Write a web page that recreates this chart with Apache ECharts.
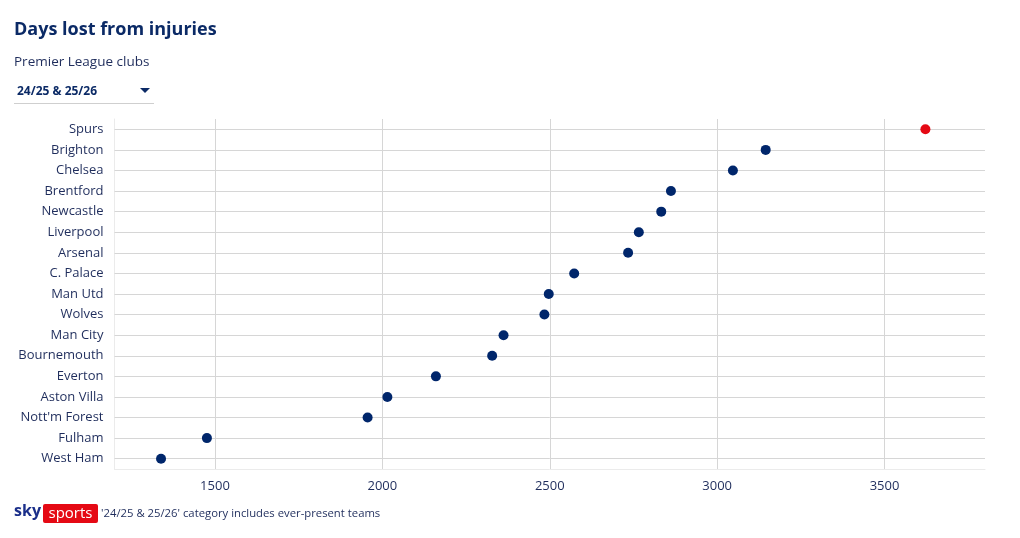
<!DOCTYPE html>
<html>
<head>
<meta charset="utf-8">
<script src="https://cdn.jsdelivr.net/npm/echarts@6/dist/echarts.min.js"></script>
<style>
html,body{margin:0;padding:0;background:#fff;}
#c{width:1020px;height:538px;}
</style>
</head>
<body>
<div id="c"></div>
<script>
const clubs = ["Spurs","Brighton","Chelsea","Brentford","Newcastle","Liverpool","Arsenal","C. Palace","Man Utd","Wolves","Man City","Bournemouth","Everton","Aston Villa","Nott'm Forest","Fulham","West Ham"];
const daysLost = [3622,3145,3047,2862,2833,2766,2734,2573,2497,2484,2362,2328,2160,2015,1956,1476,1339];
const highlightClub = "Spurs";
const xTicks = [1500,2000,2500,3000,3500];
const xMin = 1200, xMax = 3800;

const NAVY = '#00266b';
const TEXT = '#1f2d5c';
const RED = '#e50914';
const FONT = '"Open Sans", "Noto Sans", sans-serif';

const chart = echarts.init(document.getElementById('c'), null, {renderer:'canvas'});
chart.setOption({
  animation:false,
  backgroundColor:'#fff',
  grid:{left:114.5, right:35, top:119, bottom:69, containLabel:false},
  xAxis:{
    type:'value', min:xMin, max:xMax,
    axisLine:{show:true, lineStyle:{color:'#ebebeb', width:1}},
    axisTick:{show:false, customValues:xTicks},
    axisLabel:{customValues:xTicks, color:TEXT, fontSize:13, fontFamily:FONT, margin:11, formatter:v=>String(v)},
    splitLine:{show:true, lineStyle:{color:'#d6d6d6', width:1}}
  },
  yAxis:{
    type:'category', data:clubs, inverse:true,
    axisLine:{show:true, lineStyle:{color:'#ebebeb', width:1}},
    axisTick:{show:false},
    axisLabel:{color:TEXT, fontSize:13, fontFamily:FONT, margin:11},
    splitLine:{show:false}
  },
  series:[{
    type:'scatter',
    data: daysLost.map((v,i)=>({value:[v, clubs[i]], itemStyle:{color: clubs[i]===highlightClub ? RED : NAVY, opacity:1}})),
    symbolSize:10,
    itemStyle:{opacity:1},
    z:5,
    markLine:{
      silent:true, symbol:'none', animation:false,
      label:{show:false},
      lineStyle:{color:'#d6d6d6', type:'solid', width:1},
      emphasis:{disabled:true},
      data: clubs.map(c=>({yAxis:c}))
    }
  }],
  graphic:[
    {type:'text', left:14, top:21, style:{text:'Days lost from injuries', fill:'#0b2a66', font:'bold 18px '+FONT}},
    {type:'text', left:14, top:55, style:{text:'Premier League clubs', fill:TEXT, font:'13.5px '+FONT}},
    {type:'text', left:17, top:86, style:{text:'24/25 & 25/26', fill:'#0b2a66', font:'bold 12px '+FONT}},
    {type:'polygon', shape:{points:[[140,88],[150,88],[145,93]]}, style:{fill:'#0b2a66'}},
    {type:'line', shape:{x1:14,y1:103.5,x2:154,y2:103.5}, style:{stroke:'#cfcfcf', lineWidth:1}},
    {type:'text', left:14, top:503, style:{text:'sky', fill:'#1b2f8a', font:'bold 16px '+FONT}},
    {type:'rect', shape:{x:43, y:504, width:55, height:19, r:2}, style:{fill:RED}},
    {type:'text', x:70.5, y:513.5, style:{text:'sports', fill:'#fff', font:'15px '+FONT, align:'center', verticalAlign:'middle'}},
    {type:'text', left:101, top:508, style:{text:"'24/25 & 25/26' category includes ever-present teams", fill:TEXT, font:'11.3px '+FONT}}
  ]
});
</script>
</body>
</html>
